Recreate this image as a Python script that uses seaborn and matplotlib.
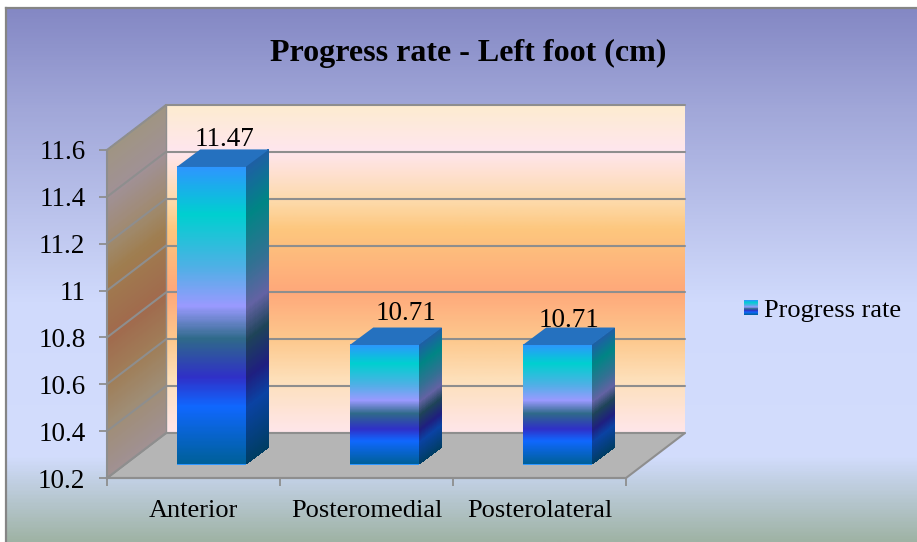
import matplotlib
matplotlib.use("Agg")
import matplotlib.pyplot as plt
import numpy as np
import pandas as pd
import seaborn as sns
from matplotlib.colors import LinearSegmentedColormap
from matplotlib.patches import Patch

categories = ["Anterior", "Posteromedial", "Posterolateral"]
progress = [11.47, 10.71, 10.71]
series_name = "Progress rate"
title = "Progress rate - Left foot (cm)"
ytick_vals = [10.2, 10.4, 10.6, 10.8, 11, 11.2, 11.4, 11.6]
ytick_labels = ["10.2", "10.4", "10.6", "10.8", "11", "11.2", "11.4", "11.6"]

W, H = 917, 542
GRID = "#8e8e8e"
PX_X = 173.0    # pixels per category
PX_Y = 234.3    # pixels per value unit

bg_cmap = LinearSegmentedColormap.from_list("bg", [
    (0.0, "#8488c4"), (0.18, "#a0a6d8"), (0.55, "#d0dafc"), (0.84, "#d3ddfd"),
    (0.88, "#c4d2e8"), (1.0, "#9fb3a5")])
wall_cmap = LinearSegmentedColormap.from_list("wall", [
    (0.0, "#fdecd0"), (0.14, "#ffe6ee"), (0.3, "#fdd9a8"), (0.38, "#fdc77e"),
    (0.57, "#ffa87a"), (0.72, "#fdc98e"), (0.84, "#fde0ba"), (1.0, "#ffe6ea")])
bar_cmap = LinearSegmentedColormap.from_list("bar", [
    (0.0, "#2e96ff"), (0.16, "#00d0d0"), (0.34, "#50b0e6"), (0.47, "#9a9aff"),
    (0.58, "#2f6a8a"), (0.71, "#3030c8"), (0.81, "#1068ff"), (1.0, "#00609a")])


def px_rect(left, top, right, bottom):
    return [left / W, 1 - bottom / H, (right - left) / W, (bottom - top) / H]


def plane(fig, left, bottom):
    # same scale on every depth plane, only the pixel offset differs
    ax = fig.add_axes(px_rect(left, bottom - 1.4 * PX_Y, left + 3 * PX_X, bottom))
    ax.set_xlim(-0.5, 2.5)
    ax.set_ylim(10.2, 11.6)
    ax.patch.set_alpha(0)
    return ax


def sheared(ax, x, dx, y0, y1, dy, cmap, dark):
    ys = np.linspace(y0, y1, 301)
    X = np.column_stack([np.full_like(ys, x), np.full_like(ys, x + dx)])
    Y = np.column_stack([ys, ys + dy])
    rgb = cmap(np.linspace(1, 0, 300))[:, :3] * dark
    ax.pcolormesh(X, Y, rgb[:, None, :], shading="flat", clip_on=False,
                  antialiased=False, linewidth=0, zorder=2)


sns.set_theme(style="white")
plt.rcParams["font.family"] = ["Liberation Serif", "DejaVu Serif"]
plt.rcParams["text.color"] = "black"

fig = plt.figure(figsize=(W / 100, H / 100), dpi=100, facecolor="white")

# chart area background
bg = fig.add_axes(px_rect(6, 8, W, H), zorder=0)
bg.imshow(np.linspace(0, 1, 400)[:, None], cmap=bg_cmap, aspect="auto")
bg.set_xticks([])
bg.set_yticks([])
for side in ["right", "bottom"]:
    bg.spines[side].set_visible(False)
for side in ["left", "top"]:
    bg.spines[side].set_color("#858585")
    bg.spines[side].set_linewidth(1.6)

# back wall
back = plane(fig, 166, 433)
back.set_zorder(1)
back.imshow(np.linspace(0, 1, 300)[:, None], cmap=wall_cmap, aspect="auto",
            extent=(-0.5, 2.5, 10.2, 11.6), zorder=0)
back.set_xlim(-0.5, 2.5)
back.set_ylim(10.2, 11.6)
back.set_yticks(ytick_vals)
back.set_xticks([])
back.set_yticklabels([])
back.tick_params(left=False)
back.grid(axis="y", color=GRID, linewidth=1.5)
for ln in back.get_ygridlines():
    ln.set_clip_on(False)
sns.despine(ax=back, left=True, bottom=True, right=True, top=True)

# floor, left wall and axes on the front plane
front = plane(fig, 107, 478)
front.set_zorder(2)
depth_x = 59 / PX_X
depth_y = 45 / PX_Y
front.fill([-0.5, 2.5, 2.5 + depth_x, -0.5 + depth_x],
           [10.2, 10.2, 10.2 + depth_y, 10.2 + depth_y],
           facecolor="#b5b5b5", edgecolor=GRID, linewidth=1.5, clip_on=False, zorder=1)
sheared(front, -0.5, depth_x, 10.2, 11.6, depth_y, wall_cmap, 0.63)
for v in ytick_vals:
    front.plot([-0.5, -0.5 + depth_x], [v, v + depth_y], color=GRID, lw=1.5,
               clip_on=False, zorder=3, solid_capstyle="round")
front.plot([-0.5 + depth_x] * 2, [10.2 + depth_y, 11.6 + depth_y], color=GRID, lw=1.0,
           clip_on=False, zorder=3)
front.set_yticks(ytick_vals)
front.set_yticklabels(ytick_labels, fontsize=19.5, color="black")
front.set_xticks([-0.5, 0.5, 1.5, 2.5])
front.set_xticklabels([])
front.set_xticks([0, 1, 2], minor=True)
front.set_xticklabels(categories, minor=True, fontsize=19, color="black")
front.tick_params(axis="both", which="major", length=5.5, width=1.3, color=GRID,
                  bottom=True, left=True)
front.tick_params(axis="y", pad=10)
front.tick_params(axis="x", which="minor", length=0, pad=16)
sns.despine(ax=front, right=True, top=True)
for side in ["left", "bottom"]:
    front.spines[side].set_color(GRID)
    front.spines[side].set_linewidth(1.5)

# the bars sit half way into the depth
bars = plane(fig, 124.7, 464.5)
bars.set_zorder(3)
df = pd.DataFrame({"site": categories, "value": progress})
sns.barplot(data=df, x="site", y="value", ax=bars, width=0.398, color="#2e96ff",
            saturation=1, linewidth=0)
bars.set_xlim(-0.5, 2.5)
bars.set_ylim(10.2, 11.6)
bars.set_axis_off()

# gradient faces go on a plain twin plane, the barplot axis has category units
faces = plane(fig, 124.7, 464.5)
faces.set_zorder(4)
bar_dx = 23.5 / PX_X
bar_dy = 17.5 / PX_Y
label_shift = [(13, 21), (22, 25), (12, 18)]
for patch, val, shift in zip(bars.patches, progress, label_shift):
    x0, x1 = patch.get_x(), patch.get_x() + patch.get_width()
    faces.imshow(np.linspace(0, 1, 300)[:, None], cmap=bar_cmap, aspect="auto",
                 extent=(x0, x1, 10.2, val), zorder=2)
    sheared(faces, x1, bar_dx, 10.2, val, bar_dy, bar_cmap, 0.64)
    faces.fill([x0, x1, x1 + bar_dx, x0 + bar_dx], [val, val, val + bar_dy, val + bar_dy],
               color="#2571bf", linewidth=0, clip_on=False, zorder=2)
    faces.annotate(f"{val:.2f}", xy=((x0 + x1) / 2, val), xytext=shift,
                   textcoords="offset pixels", ha="center", va="baseline",
                   fontsize=19.5, annotation_clip=False, zorder=4)
faces.set_xlim(-0.5, 2.5)
faces.set_ylim(10.2, 11.6)
faces.set_axis_off()

fig.text(468 / W, 1 - 61 / H, title, ha="center", va="baseline", fontsize=23,
         fontweight="bold", color="black")

# legend, key is a small gradient swatch
key = fig.add_axes(px_rect(744, 300, 758, 315), zorder=5)
key.imshow(np.linspace(0, 1, 60)[:, None], cmap=bar_cmap, aspect="auto")
key.set_axis_off()
fig.legend(handles=[Patch(facecolor="none", edgecolor="none")], labels=[series_name],
           loc="center left", bbox_to_anchor=(764 / W, 1 - 310 / H), frameon=False,
           handlelength=0, handletextpad=0, borderpad=0, borderaxespad=0, fontsize=19)

fig.savefig("out.png", dpi=100)
